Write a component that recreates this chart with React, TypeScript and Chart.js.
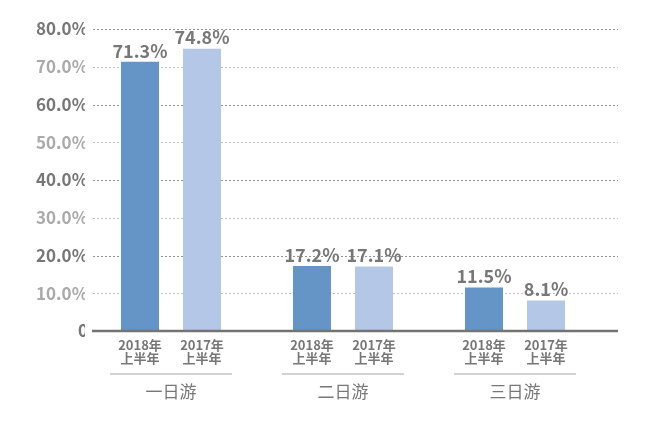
import React, { useEffect, useRef } from "react";
import { Chart, registerables } from "chart.js";

Chart.register(...registerables);

const categories = ["一日游", "二日游", "三日游"];
const seriesNames = ["2018年上半年", "2017年上半年"];
const subLabelLines = [
  ["2018年", "上半年"],
  ["2017年", "上半年"],
];
const values2018 = [71.3, 17.2, 11.5];
const values2017 = [74.8, 17.1, 8.1];
const yMax = 80;
const yStep = 10;

const FONT = "'Noto Sans CJK SC', 'Noto Sans', sans-serif";

const decorPlugin = {
  id: "decor",
  beforeDatasetsDraw(chart: any) {
    const ctx = chart.ctx;
    const y = chart.scales.y;
    const area = chart.chartArea;
    const left = area.left + 8;
    const right = area.right + 17;
    ctx.save();
    y.ticks.forEach((t: any) => {
      if (t.value === 0) return;
      const py = Math.round(y.getPixelForValue(t.value)) + 0.5;
      ctx.strokeStyle = t.value % 20 === 0 ? "#939393" : "#c0c0c0";
      ctx.lineWidth = 1;
      ctx.setLineDash([2, 2]);
      ctx.beginPath();
      ctx.moveTo(left, py);
      ctx.lineTo(right, py);
      ctx.stroke();
    });
    ctx.restore();
  },
  afterDraw(chart: any) {
    const ctx = chart.ctx;
    const x = chart.scales.x;
    const y = chart.scales.y;
    const area = chart.chartArea;
    const base = y.getPixelForValue(0);
    ctx.save();
    // axis line
    ctx.strokeStyle = "#737373";
    ctx.lineWidth = 2.5;
    ctx.setLineDash([]);
    ctx.beginPath();
    ctx.moveTo(area.left + 7, base);
    ctx.lineTo(area.right + 17, base);
    ctx.stroke();

    // value labels and sub labels
    chart.data.datasets.forEach((ds: any, di: number) => {
      const meta = chart.getDatasetMeta(di);
      meta.data.forEach((bar: any, i: number) => {
        ctx.fillStyle = "#777777";
        ctx.font = `bold 18px ${FONT}`;
        ctx.textAlign = "center";
        ctx.textBaseline = "bottom";
        ctx.fillText(ds.data[i].toFixed(1) + "%", bar.x, bar.y - 2);
        ctx.font = `bold 13px ${FONT}`;
        ctx.textBaseline = "middle";
        const lines = subLabelLines[di];
        ctx.fillText(lines[0], bar.x, base + 14.5);
        ctx.fillText(lines[1], bar.x, base + 27.5);
      });
    });

    // group separators
    categories.forEach((_, i) => {
      const cx = x.getPixelForValue(i);
      ctx.strokeStyle = "#c4c4c4";
      ctx.lineWidth = 1.5;
      ctx.beginPath();
      ctx.moveTo(cx - 61, base + 43);
      ctx.lineTo(cx + 61, base + 43);
      ctx.stroke();
    });
    ctx.restore();
  },
};

export default function App() {
  const ref = useRef<HTMLCanvasElement>(null);
  useEffect(() => {
    document.body.style.margin = "0";
    if (!ref.current) return;
    const chart = new Chart(ref.current, {
      type: "bar",
      data: {
        labels: categories,
        datasets: [
          {
            label: seriesNames[0],
            data: values2018,
            backgroundColor: "#6594c6",
            categoryPercentage: 0.721,
            barPercentage: 0.613,
          },
          {
            label: seriesNames[1],
            data: values2017,
            backgroundColor: "#b4c7e6",
            categoryPercentage: 0.721,
            barPercentage: 0.613,
          },
        ],
      },
      options: {
        animation: false,
        responsive: true,
        maintainAspectRatio: false,
        layout: { padding: { top: 29, right: 49, left: 0, bottom: 0 } },
        plugins: {
          legend: { display: false },
          tooltip: { enabled: false },
        },
        scales: {
          x: {
            grid: { display: false, drawTicks: false },
            border: { display: false },
            afterFit: (s: any) => {
              s.height = 96;
            },
            ticks: {
              padding: 50,
              color: "#777777",
              font: { family: FONT, size: 17 },
            },
          },
          y: {
            min: 0,
            max: yMax,
            grid: { display: false, drawTicks: false },
            border: { display: false },
            afterFit: (s: any) => {
              s.width = 85;
            },
            ticks: {
              stepSize: yStep,
              padding: -3,
              color: (c: any) => (c.tick && c.tick.value % 20 === 0 ? "#777777" : "#aaaaaa"),
              font: { family: FONT, size: 17, weight: "bold" },
              callback: (v: any) => (v === 0 ? "0" : Number(v).toFixed(1) + "%"),
            },
          },
        },
      },
      plugins: [decorPlugin],
    });
    return () => chart.destroy();
  }, []);
  return (
    <div style={{ width: 650, height: 427, position: "relative" }}>
      <canvas ref={ref} />
    </div>
  );
}
